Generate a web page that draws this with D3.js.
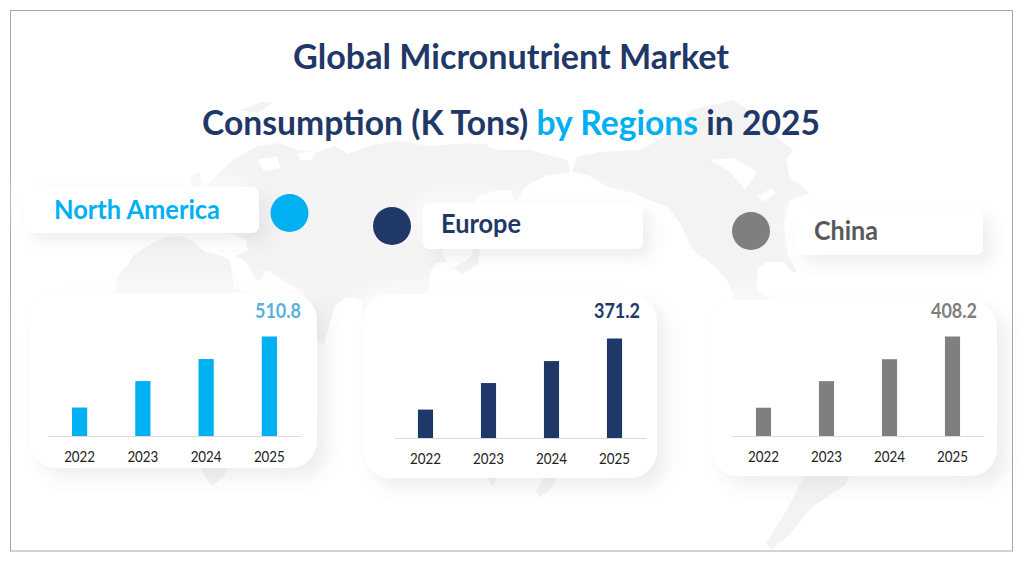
<!DOCTYPE html>
<html>
<head>
<meta charset="utf-8">
<script src="https://cdn.jsdelivr.net/npm/d3@7"></script>
<style>
  html, body { margin: 0; background: #fff; }
  svg { display: block; }
  text { font-family: Lato, "Open Sans", sans-serif; }
</style>
</head>
<body>
<svg id="chart" width="1024" height="566"></svg>
<script>
// chart values (K Tons)
const years = ["2022", "2023", "2024", "2025"];
const northAmerica = [146, 282, 395, 510.8];
const europe = [106, 205, 287, 371.2];
const china = [116, 225, 315, 408.2];

const regionNames = ["North America", "Europe", "China"];
const regionColors = ["#00b0f0", "#1f3868", "#7f7f7f"];
const labelColors = ["#00b0f0", "#1f3868", "#595959"];
const valueColors = ["#5bb0dc", "#1f3868", "#7f7f7f"];

// layout of the three blocks
const blocks = [
  { values: northAmerica, card: [30, 293, 287, 175], axis: [48, 301, 436], top: 336.5, valueX: 301,
    pill: [24, 187, 235, 46], textX: 54, textY: 219, textW: 166, dot: [289.5, 213] },
  { values: europe, card: [363, 294, 294, 184], axis: [394, 646, 438], top: 338.5, valueX: 640,
    pill: [423, 203, 220, 46], textX: 441, textY: 233, textW: 80, dot: [392, 226] },
  { values: china, card: [711, 300, 286, 176], axis: [732, 984, 436], top: 336.5, valueX: 977,
    pill: [795, 209, 188, 46], textX: 814, textY: 240, textW: 64, dot: [751, 231] }
];

// rough outline of the faint world map behind everything (page pixels)
const landShapes = [
  // africa
  [[115,296],[117,278],[128,264],[133,256],[150,244],[165,237],[180,236],[192,240],[205,252],[222,256],[232,262],[240,290],[250,312],[270,318],[262,380],[240,440],[224,476],[212,486],[202,472],[192,420],[176,360],[150,322],[125,312]],
  // eurasia
  [[178,232],[176,214],[196,204],[203,192],[214,178],[233,160],[257,146],[280,143],[298,150],[318,152],[335,146],[348,154],[372,145],[400,141],[430,146],[470,143],[500,150],[530,150],[568,160],[570,172],[545,176],[526,186],[516,203],[510,190],[496,191],[478,197],[468,216],[456,240],[441,252],[447,262],[437,263],[430,272],[428,292],[400,305],[362,318],[362,302],[356,297],[345,298],[335,306],[324,344],[318,342],[310,320],[303,292],[285,282],[268,270],[258,282],[246,262],[236,256],[248,250],[246,240],[230,234],[210,232],[192,228]],
  // britain, japan, arctic islands
  [[190,178],[199,172],[203,186],[194,193]],
  [[454,268],[470,258],[474,246],[480,250],[478,264],[462,274]],
  [[240,110],[262,102],[273,103],[258,113]],
  [[468,146],[490,143],[484,150]],
  // north america
  [[577,157],[600,152],[640,150],[680,128],[690,110],[733,100],[760,118],[770,132],[793,150],[786,160],[790,178],[810,193],[790,200],[784,225],[788,255],[797,272],[792,272],[784,262],[768,262],[757,268],[757,290],[770,300],[735,300],[728,282],[717,268],[693,250],[680,223],[667,207],[633,193],[607,187],[590,176],[572,172]],
  // south america
  [[807,470],[853,470],[845,485],[812,507],[787,537],[771,550],[766,543],[787,510]],
  // australia pieces
  [[488,474],[497,474],[494,487],[490,484]],
  [[545,474],[558,474],[552,488],[540,497],[536,492]]
];
const seaShapes = [
  [[257,160],[277,156],[280,168],[264,171]],
  [[298,153],[317,151],[312,160],[300,160]],
  [[230,262],[233,262],[238,288],[235,290]],
  [[262,270],[268,272],[278,283],[272,284]],
  [[710,160],[735,158],[757,172],[745,190],[730,172]],
  [[758,196],[772,188],[776,194],[762,202]]
];

const svg = d3.select("#chart");

// soft shadows: white glow top-left, grey bottom-right
const defs = svg.append("defs");
function addShadow(id, dist, blur, alpha) {
  const f = defs.append("filter").attr("id", id)
    .attr("x", "-30%").attr("y", "-50%").attr("width", "160%").attr("height", "200%");
  f.append("feDropShadow").attr("dx", -dist).attr("dy", -dist).attr("stdDeviation", blur * 1.3)
    .attr("flood-color", "#fff").attr("flood-opacity", 0.85).attr("result", "glow");
  f.append("feDropShadow").attr("in", "SourceGraphic").attr("dx", dist).attr("dy", dist).attr("stdDeviation", blur)
    .attr("flood-color", "#6a6d7c").attr("flood-opacity", alpha).attr("result", "dark");
  const m = f.append("feMerge");
  m.append("feMergeNode").attr("in", "glow");
  m.append("feMergeNode").attr("in", "dark");
}
addShadow("cardShadow", 8, 9, 0.17);
addShadow("pillShadow", 7, 8, 0.16);

// map watermark
const outline = d3.line();
svg.append("g").selectAll("path").data(landShapes).join("path")
  .attr("d", d => outline(d) + "Z").attr("fill", "#f3f3f4");
svg.append("g").selectAll("path").data(seaShapes).join("path")
  .attr("d", d => outline(d) + "Z").attr("fill", "#fff");

// frame
svg.append("rect").attr("x", 10.5).attr("y", 10.5).attr("width", 1002).attr("height", 540.5)
  .attr("fill", "none").attr("stroke", "#a6a6a6");

// title
svg.append("text").attr("x", 293).attr("y", 69).attr("textLength", 436).attr("lengthAdjust", "spacingAndGlyphs")
  .attr("font-size", 34).attr("font-weight", 700).attr("fill", "#1f3868")
  .text("Global Micronutrient Market");
const line2 = svg.append("text").attr("x", 202).attr("y", 135).attr("textLength", 618).attr("lengthAdjust", "spacingAndGlyphs")
  .attr("font-size", 34).attr("font-weight", 700).attr("fill", "#1f3868");
line2.append("tspan").text("Consumption (K Tons) ");
line2.append("tspan").attr("fill", "#00b0f0").text("by Regions");
line2.append("tspan").text(" in 2025");

blocks.forEach(function(b, i) {
  const g = svg.append("g");

  // region label and dot
  g.append("rect").attr("x", b.pill[0]).attr("y", b.pill[1]).attr("width", b.pill[2]).attr("height", b.pill[3])
    .attr("rx", 7).attr("fill", "#fff").attr("filter", "url(#pillShadow)");
  g.append("circle").attr("cx", b.dot[0]).attr("cy", b.dot[1]).attr("r", 19).attr("fill", regionColors[i]);
  g.append("text").attr("x", b.textX).attr("y", b.textY)
    .attr("textLength", b.textW).attr("lengthAdjust", "spacingAndGlyphs")
    .attr("font-size", 27).attr("font-weight", 700).attr("fill", labelColors[i])
    .text(regionNames[i]);

  // card
  g.append("rect").attr("x", b.card[0]).attr("y", b.card[1]).attr("width", b.card[2]).attr("height", b.card[3])
    .attr("rx", 27).attr("fill", "#fff").attr("filter", "url(#cardShadow)");

  // scales
  const x = d3.scaleBand().domain(years).range([b.axis[0], b.axis[1]]).paddingInner(0.76).paddingOuter(0.38);
  const y = d3.scaleLinear().domain([0, d3.max(b.values)]).range([b.axis[2], b.top]);

  g.selectAll(".bar").data(b.values).join("rect")
    .attr("class", "bar")
    .attr("x", (d, j) => x(years[j]))
    .attr("y", d => y(d))
    .attr("width", x.bandwidth())
    .attr("height", d => y(0) - y(d))
    .attr("fill", regionColors[i]);

  const axis = g.append("g")
    .attr("transform", `translate(0, ${b.axis[2]})`)
    .call(d3.axisBottom(x).tickSize(0).tickPadding(15));
  axis.select(".domain").attr("stroke", "#d9dae0");
  axis.selectAll("text")
    .style("font-family", "Lato, sans-serif").style("font-size", "15.5px").attr("fill", "#222")
    .attr("textLength", 31).attr("lengthAdjust", "spacingAndGlyphs");

  // only the last year carries its value
  g.append("text").attr("x", b.valueX).attr("y", 318).attr("text-anchor", "end")
    .attr("textLength", 46).attr("lengthAdjust", "spacingAndGlyphs")
    .attr("font-size", 20).attr("font-weight", 700).attr("fill", valueColors[i])
    .text(b.values[b.values.length - 1].toFixed(1));
});
</script>
</body>
</html>
